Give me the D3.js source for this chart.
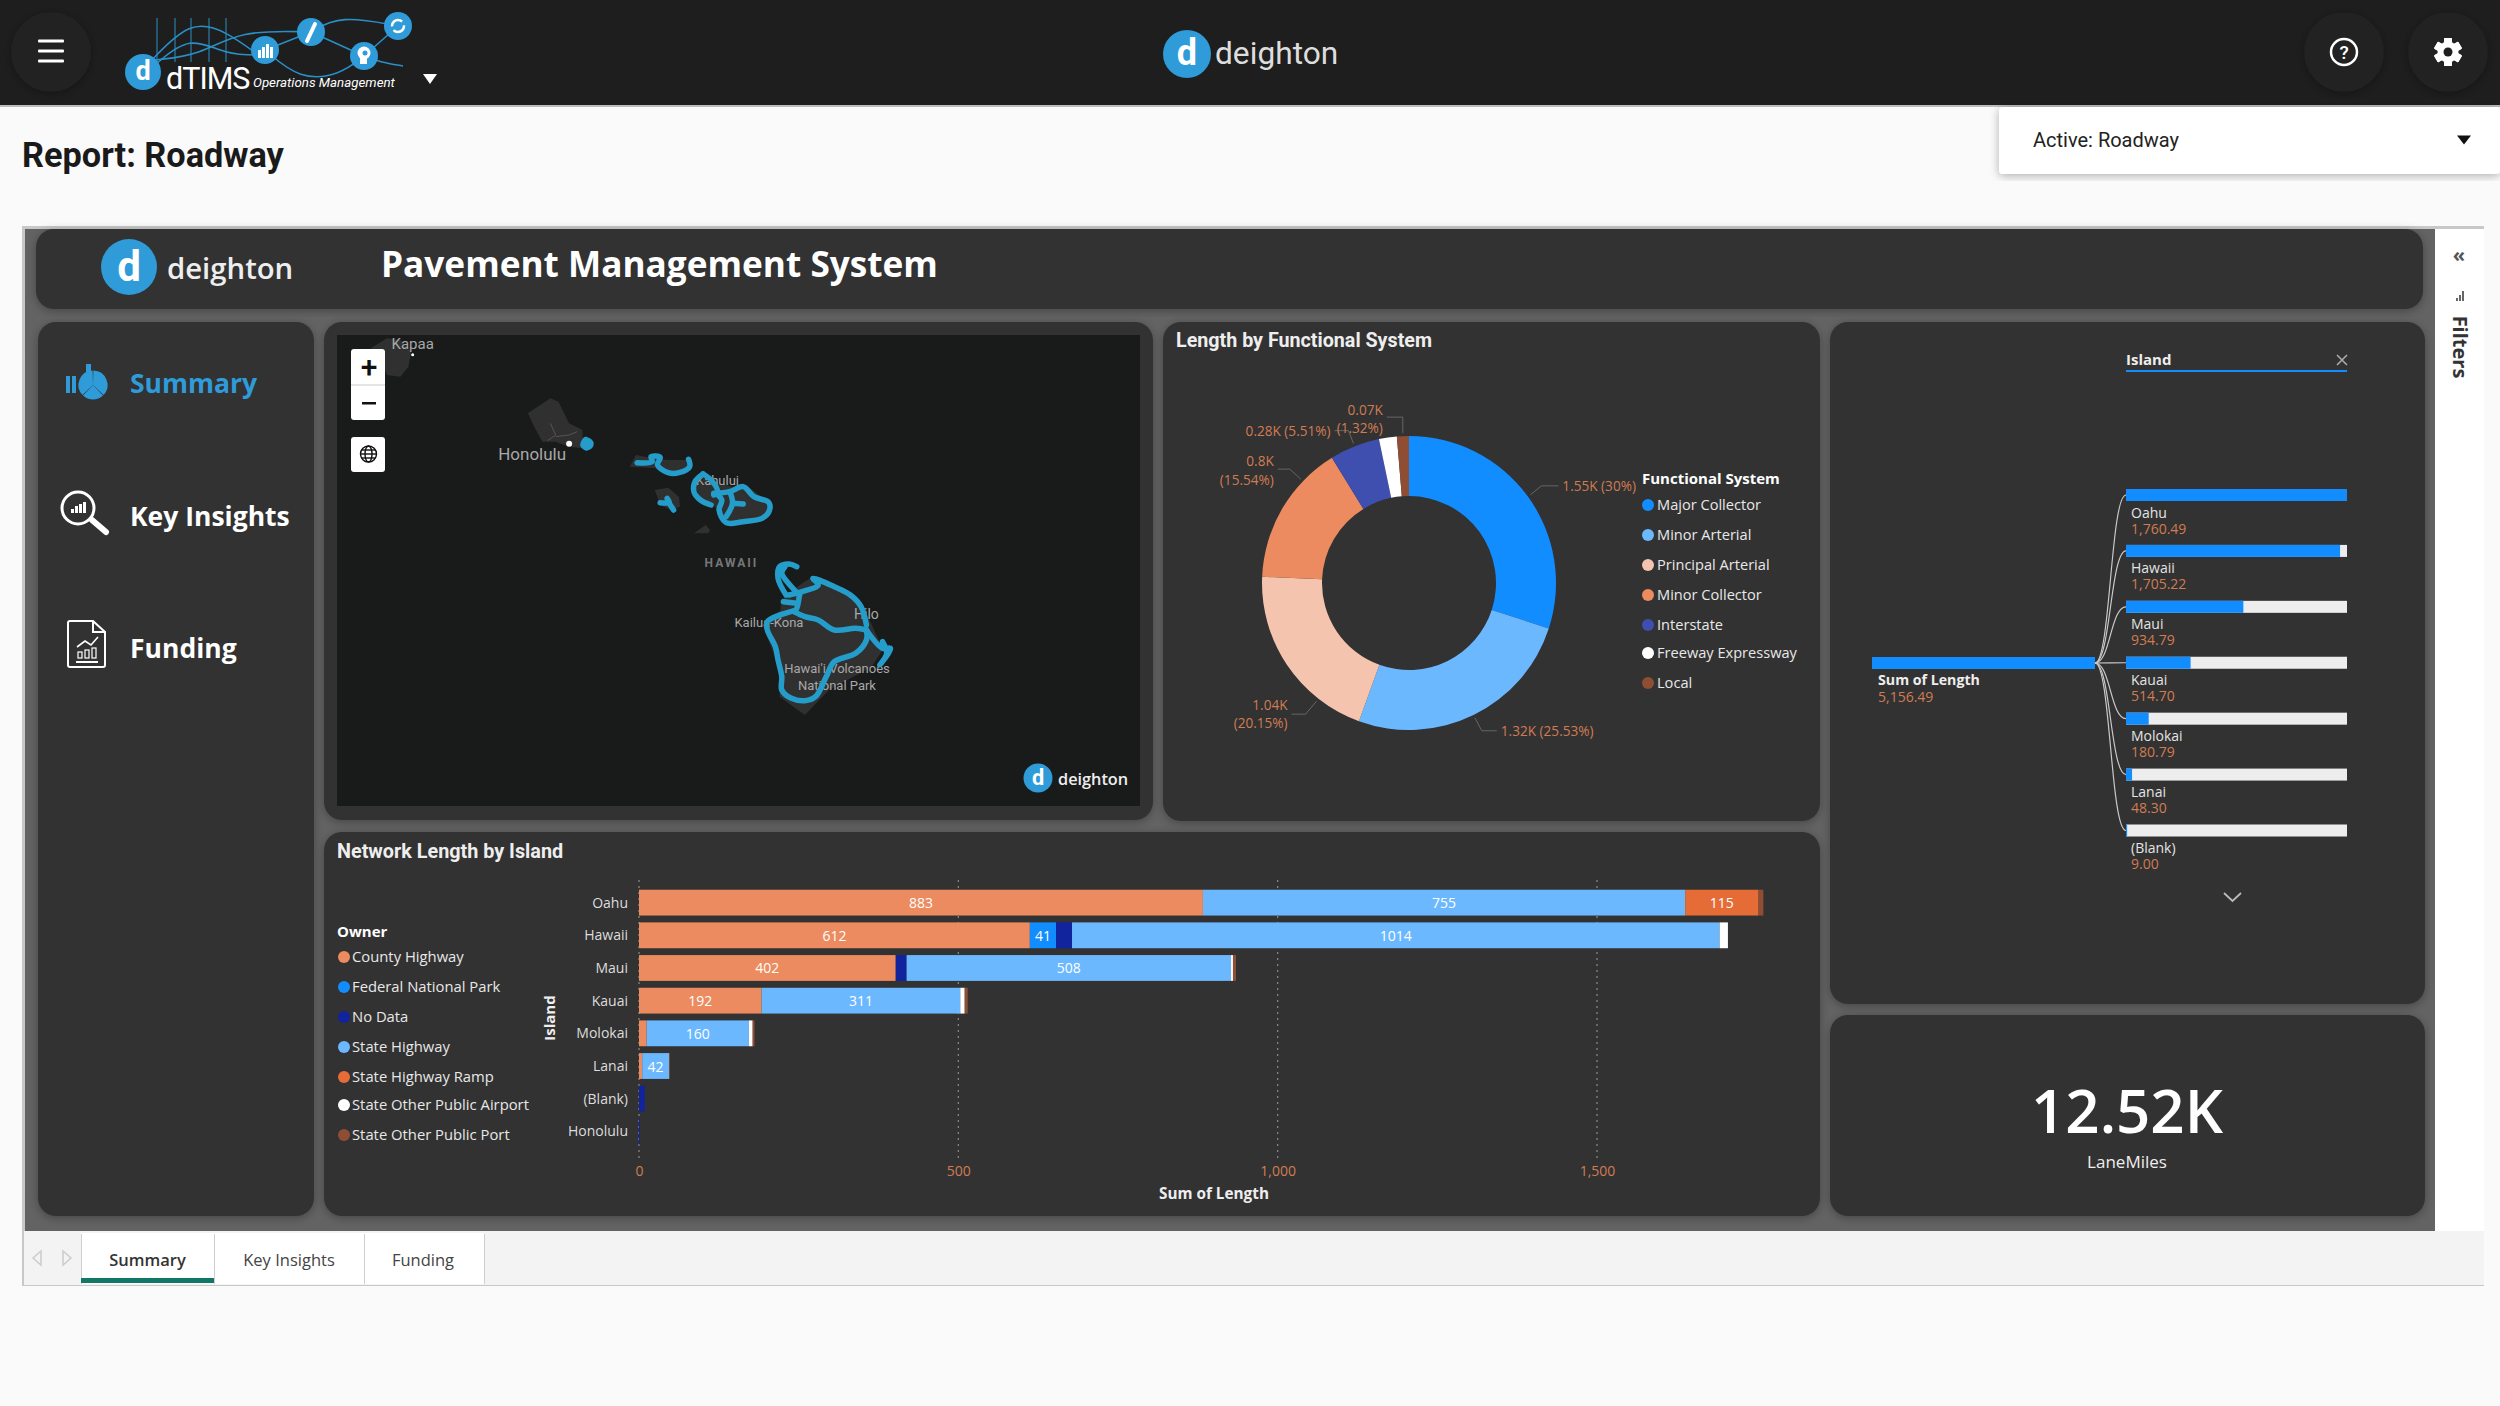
<!DOCTYPE html>
<html><head><meta charset="utf-8">
<script src="https://cdn.jsdelivr.net/npm/d3@7/dist/d3.min.js"></script>
<style>
html,body{margin:0;padding:0;background:#fafafa;overflow:hidden}
svg{display:block}
text{font-family:"Open Sans",sans-serif}
</style></head><body>
<svg id="page" width="2500" height="1406"></svg>
<script>
// ---------- chart values ----------
const functionalSystems = ["Major Collector","Minor Arterial","Principal Arterial","Minor Collector","Interstate","Freeway Expressway","Local"];
const functionalValues = [1547,1316,1039,801,284,101,68];
const functionalColors = ["#118DFF","#6CB8FF","#F4C4AE","#EC8B60","#3F4FB0","#FFFFFF","#8F4E33"];
const functionalLabels = [["1.55K (30%)"],["1.32K (25.53%)"],["1.04K","(20.15%)"],["0.8K","(15.54%)"],["0.28K (5.51%)"],null,["0.07K","(1.32%)"]];

const islands = ["Oahu","Hawaii","Maui","Kauai","Molokai","Lanai","(Blank)","Honolulu"];
const owners = ["County Highway","Federal National Park","No Data","State Highway","State Highway Ramp","State Other Public Airport","State Other Public Port"];
const ownerColors = ["#EC8B60","#118DFF","#12239E","#6CB8FF","#E66C37","#FFFFFF","#8F4E33"];
const countyHighway = [883,612,402,192,12,5,0,0];
const federalPark   = [0,41,0,0,0,0,0,0];
const noData        = [0,25,17,0,0,0,9,1.5];
const stateHighway  = [755,1014,508,311,160,42,0,0];
const stateRamp     = [115,0,0,0,0,0,0,0];
const stateAirport  = [0,13,3,7,6,0,0,0];
const statePort     = [7.5,0,4.8,4.7,2.8,1.3,0,0];
const lengthTicks = [0,500,1000,1500];

const treeIslands = ["Oahu","Hawaii","Maui","Kauai","Molokai","Lanai","(Blank)"];
const treeValues = [1760.49,1705.22,934.79,514.70,180.79,48.30,9.00];
const treeTotal = 5156.49;
const kpiValue = "12.52K";

// map outlines and routes in map-image units
const landShapes = [
 [[95,85],[125,55],[150,60],[170,95],[165,140],[150,170],[125,165],[110,110]],
 [[388,280],[430,235],[445,245],[465,310],[490,330],[490,385],[465,380],[440,365],[415,365],[400,320]],
 [[578,440],[590,405],[620,415],[650,420],[690,420],[690,440],[660,460],[630,445]],
 [[625,510],[650,503],[670,530],[672,560],[655,570],[635,555]],
 [[698,640],[720,615],[728,630],[725,640]],
 [[700,490],[715,460],[745,490],[770,500],[800,500],[835,545],[840,580],[820,600],[760,612],[745,580],[735,555],[710,545]],
 [[860,840],[900,790],[920,770],[960,790],[1000,830],[1020,880],[1040,950],[1050,990],[1030,1040],[950,1110],[905,1185],[858,1130],[860,1060],[835,950],[830,910],[860,870]]
];
const faintRoads = [
 [[430,310],[440,345],[425,362]],[[440,350],[465,345],[480,335]]
];
const oahuRoute = [[495,350],[510,364],[509,382],[497,392],[486,378],[488,362]];
const routes = [
 [[592,428],[620,425],[618,410],[635,412],[630,435],[650,458],[670,458],[690,440],[688,418]],
 [[635,548],[652,548],[648,535]],[[650,545],[660,570]],
 [[715,462],[700,485],[698,515],[710,540],[730,555]],
 [[715,462],[730,480],[742,515],[735,525]],
 [[735,520],[765,515],[790,500],[810,530],[838,548],[838,575],[825,595],[790,605],[758,608],[745,570],[750,540],[738,520]],
 [[765,515],[770,550],[758,590]],[[770,550],[790,552]],
 [[870,825],[855,775],[858,740],[875,732],[890,740]],
 [[868,740],[862,760],[880,800],[895,825]],
 [[875,825],[900,815],[930,795],[920,775],[960,800],[990,825],[1010,860],[1020,915]],
 [[885,875],[905,890],[930,900],[960,930],[1000,925],[1020,930]],
 [[885,872],[835,905],[835,930],[850,980],[855,1020],[862,1070],[862,1110],[880,1135],[905,1142],[925,1130],[945,1070],[960,1025],[1000,1000],[1020,960],[1020,930]],
 [[1020,930],[1050,985],[1065,985],[1045,1035],[1058,1000],[1050,965]],
 [[895,825],[890,865],[885,875]],[[865,845],[890,850]]
];
const mapLabels = [["Kapaa",173,73,15],["Honolulu",396,403,17],["Kahului",742,482,13],["Kailua-Kona",838,908,13],["Hilo",1020,883,14],["Hawai'i Volcanoes",965,1046,13],["National Park",965,1097,13]];

// ---------- helpers ----------
const svg = d3.select("#page");
const BLUE = "#2F9BD8", ORANGE = "#D07C52";
const defs = svg.append("defs");
const sh = defs.append("filter").attr("id","shadow").attr("x","-10%").attr("y","-10%").attr("width","120%").attr("height","120%");
sh.append("feDropShadow").attr("dx",0).attr("dy",2).attr("stdDeviation",5).attr("flood-color","#000").attr("flood-opacity",.3);

function rect(g,x0,y0,x1,y1,fill,r){return g.append("rect").attr("x",x0).attr("y",y0).attr("width",x1-x0).attr("height",y1-y0).attr("fill",fill).attr("rx",r||0);}
function txt(g,s,x,y,size,fill,o){o=o||{};const t=g.append("text").attr("x",x).attr("y",y).attr("font-size",size).attr("fill",fill).attr("dominant-baseline","central").attr("text-anchor",o.anchor||"start").text(s);
 if(o.weight)t.attr("font-weight",o.weight); if(o.family)t.style("font-family",o.family); if(o.style)t.attr("font-style",o.style); if(o.ls)t.attr("letter-spacing",o.ls); if(o.rot)t.attr("transform",`rotate(${o.rot} ${x} ${y})`); return t;}
function logoD(g,cx,cy,r){g.append("circle").attr("cx",cx).attr("cy",cy).attr("r",r).attr("fill",BLUE);
 txt(g,"d",cx,cy-r*.03,r*1.5,"#fff",{anchor:"middle",weight:700,family:"Roboto"});}

// ---------- page chrome ----------
rect(svg,0,0,2500,1406,"#FAFAFA");
rect(svg,0,0,2500,105,"#1E1E1E");
rect(svg,0,105,2500,107,"#bdbdbd");
[[51],[2344],[2448]].forEach(d=>svg.append("circle").attr("cx",d[0]).attr("cy",52).attr("r",40).attr("fill","#202020").attr("filter","url(#shadow)"));
[-10,0,10].forEach(d=>rect(svg,38,51+d-1.5,64,51+d+1.5,"#fff",1));

// dTIMS logo
const lg = svg.append("g");
const logoLine = d3.line().curve(d3.curveBasis);
[157,175,191,209,226].forEach(x=>lg.append("line").attr("x1",x).attr("x2",x).attr("y1",18).attr("y2",62).attr("stroke","#2A8FC5").attr("stroke-width",1));
[[[150,62],[190,20],[225,30],[265,60]],[[155,60],[200,55],[240,30],[311,32]],[[155,65],[190,35],[225,55],[265,55]],[[265,50],[311,32]],[[311,32],[340,15],[398,26]],[[311,32],[364,56]],[[364,56],[398,26]],[[265,50],[300,80],[340,75],[364,56]],[[364,56],[380,62],[403,66]]].forEach(p=>
 lg.append("path").attr("d",logoLine(p)).attr("fill","none").attr("stroke","#2A8FC5").attr("stroke-width",1.6));
logoD(lg,143,72,18);
[[265,50],[311,32],[398,26],[364,56]].forEach(p=>lg.append("circle").attr("cx",p[0]).attr("cy",p[1]).attr("r",14).attr("fill",BLUE));
[[258,3,8],[262,3,11],[266,3,14],[270,3,11]].forEach(d=>rect(lg,d[0],58-d[2],d[0]+d[1],58,"#fff"));
lg.append("path").attr("d","M307,41L315,24").attr("stroke","#fff").attr("stroke-width",4).attr("stroke-linecap","round");
lg.append("circle").attr("cx",398).attr("cy",26).attr("r",6).attr("fill","none").attr("stroke","#fff").attr("stroke-width",2.5).attr("stroke-dasharray","14 4");
lg.append("circle").attr("cx",364).attr("cy",53).attr("r",6.5).attr("fill","#fff");
rect(lg,360,55,367,64,"#fff");
lg.append("circle").attr("cx",365).attr("cy",53).attr("r",2.5).attr("fill",BLUE);
txt(lg,"dTIMS",166,78,30.5,"#fff",{family:"Roboto",ls:-1});
txt(lg,"Operations Management",253,82,13.3,"#fff",{style:"italic",family:"Roboto"});
function tri(x,y,w,h,fill){svg.append("path").attr("d",`M${x-w},${y-h}L${x+w},${y-h}L${x},${y+h}Z`).attr("fill",fill);}
tri(430,79,7,5,"#fff");

logoD(svg,1187,54,24);
txt(svg,"deighton",1215,53,31.7,"#dddddd",{weight:400,family:"Roboto"});

svg.append("circle").attr("cx",2344).attr("cy",52).attr("r",13).attr("fill","none").attr("stroke","#fff").attr("stroke-width",2.5);
txt(svg,"?",2344,52,19,"#fff",{anchor:"middle",family:"Roboto",weight:500});
const gear = svg.append("g").attr("transform","translate(2448,52)");
d3.range(6).forEach(i=>gear.append("rect").attr("x",-4).attr("y",-14).attr("width",8).attr("height",28).attr("fill","#fff").attr("rx",1).attr("transform",`rotate(${i*60})`));
gear.append("circle").attr("r",10.5).attr("fill","#fff");
gear.append("circle").attr("r",4.5).attr("fill","#1E1E1E");

txt(svg,"Report: Roadway",22,155,34.3,"#1a1a1a",{family:"Roboto",weight:700});

rect(svg,1999,107,2500,174,"#fff",4).attr("filter","url(#shadow)");
txt(svg,"Active: Roadway",2033,140,20,"#222",{family:"Roboto"});
tri(2464,140,7,4.5,"#111");

// ---------- report frame ----------
rect(svg,22,226,2484,1286,"#c8c8c8");
rect(svg,25,229,2435,1231,"#636363");
rect(svg,2435,229,2484,1231,"#fff");
rect(svg,24,1231,2484,1285,"#f3f3f3");

function panel(x0,y0,x1,y1){return rect(svg,x0,y0,x1,y1,"#333333",18).attr("filter","url(#shadow)");}
panel(36,229,2423,309);
panel(38,322,314,1216);
panel(324,322,1153,820);
panel(1163,322,1820,821);
panel(324,832,1820,1216);
panel(1830,322,2425,1004);
panel(1830,1015,2425,1216);

// header
logoD(svg,129,267,28);
txt(svg,"deighton",167,268,29.3,"#eeeeee",{weight:600});
txt(svg,"Pavement Management System",381,263,35.2,"#ffffff",{weight:700});

// sidebar
txt(svg,"Summary",130,383,26.5,BLUE,{weight:700});
txt(svg,"Key Insights",130,516,26.5,"#fff",{weight:700});
txt(svg,"Funding",130,648,26.5,"#fff",{weight:700});
const ic1 = svg.append("g").attr("fill",BLUE);
[[66,376,4,17],[72,376,4,17]].forEach(d=>ic1.append("rect").attr("x",d[0]).attr("y",d[1]).attr("width",d[2]).attr("height",d[3]));
rect(ic1,86,364,91,372,BLUE);
const ic1Arc = d3.arc().innerRadius(0).outerRadius(14.5);
d3.pie().sort(null)([3,2,3]).forEach(a=>ic1.append("path").attr("transform","translate(93,385)").attr("d",ic1Arc.padAngle(.05)(a)));
const ic2 = svg.append("g").attr("fill","none").attr("stroke","#fff");
ic2.append("circle").attr("cx",78).attr("cy",508).attr("r",16).attr("stroke-width",3);
ic2.append("line").attr("x1",92).attr("y1",520).attr("x2",106).attr("y2",532).attr("stroke-width",6).attr("stroke-linecap","round");
[[71,4],[75,7],[79,9],[83,11]].forEach(d=>rect(svg,d[0],513-d[1],d[0]+3,513,"#fff"));
const ic3 = svg.append("g").attr("fill","none").attr("stroke","#fff").attr("stroke-width",2);
ic3.append("path").attr("d","M70,621H93L105,632V665Q105,667 103,667H70Q68,667 68,665V623Q68,621 70,621ZM93,621V632H105");
ic3.append("path").attr("d","M77,647L85,641L91,645L98,637").attr("stroke-width",1.6);
[[78,652,4,6],[85,650,4,8],[92,648,4,10]].forEach(d=>ic3.append("rect").attr("x",d[0]).attr("y",d[1]).attr("width",d[2]).attr("height",d[3]).attr("stroke-width",1.2));
ic3.append("line").attr("x1",76).attr("x2",98).attr("y1",662).attr("y2",662);

// ---------- map ----------
rect(svg,337,335,1140,806,"#191B1B");
const mapG = svg.append("g");
const mx = d3.scaleLinear().domain([0,1568]).range([320,1160]);
const my = d3.scaleLinear().domain([0,1500]).range([320,820]);
const mapLine = d3.line().x(d=>mx(d[0])).y(d=>my(d[1]));
landShapes.forEach(s=>mapG.append("path").attr("d",mapLine.curve(d3.curveLinearClosed)(s)).attr("fill","#303030"));
faintRoads.forEach(s=>mapG.append("path").attr("d",mapLine.curve(d3.curveLinear)(s)).attr("fill","none").attr("stroke","#555").attr("stroke-width",1));
mapG.append("circle").attr("cx",mx(465)).attr("cy",my(371)).attr("r",3).attr("fill","#fff");
mapG.append("circle").attr("cx",mx(173)).attr("cy",my(104)).attr("r",1.5).attr("fill","#fff");
mapLabels.forEach(l=>txt(mapG,l[0],mx(l[1]),my(l[2]),l[3],"#a8a8a8",{anchor:"middle",family:"Roboto"}));
txt(mapG,"HAWAII",mx(768),my(730),12,"#777",{anchor:"middle",family:"Roboto",weight:700,ls:2});
const routeLine = d3.line().x(d=>mx(d[0])).y(d=>my(d[1])).curve(d3.curveCatmullRom);
mapG.append("path").attr("d",routeLine.curve(d3.curveCatmullRomClosed)(oahuRoute)).attr("fill","#249DCB");
routeLine.curve(d3.curveCatmullRom);
routes.forEach(r=>mapG.append("path").attr("d",routeLine(r)).attr("fill","none").attr("stroke","#249DCB").attr("stroke-width",5.5).attr("stroke-linejoin","round").attr("stroke-linecap","round"));
rect(svg,351,349,385,420,"#fff",3);
rect(svg,351,384.5,385,385.5,"#ccc");
txt(svg,"+",369,366,30,"#111",{anchor:"middle",family:"Roboto",weight:500});
rect(svg,362,402,376,404.5,"#111");
rect(svg,351,437,385,472,"#fff",3);
const gl = svg.append("g").attr("fill","none").attr("stroke","#111").attr("stroke-width",1.4).attr("transform","translate(368.5,454)");
gl.append("circle").attr("r",8);gl.append("ellipse").attr("rx",3.5).attr("ry",8);
gl.append("line").attr("x1",-8).attr("x2",8);gl.append("line").attr("x1",-7).attr("x2",7).attr("y1",-4).attr("y2",-4);gl.append("line").attr("x1",-7).attr("x2",7).attr("y1",4).attr("y2",4);
logoD(svg,1038,778,14.5);
txt(svg,"deighton",1058,779,16.3,"#eeeeee",{weight:600});

// ---------- donut ----------
const dG = svg.append("g");
txt(dG,"Length by Functional System",1176,340,19.7,"#eeeeee",{family:"Roboto",weight:700});
const donutC = [1409,583], R = 147, r0 = 87;
const pie = d3.pie().sort(null).value(d=>d);
const arcs = pie(functionalValues);
const arc = d3.arc().innerRadius(r0).outerRadius(R);
dG.selectAll("path.slice").data(arcs).join("path").attr("class","slice")
 .attr("transform",`translate(${donutC})`).attr("d",arc).attr("fill",(d,i)=>functionalColors[i]);
const leaderR = R+3;
// t: where on the slice the leader starts; e: elbow offset; h: run of the horizontal; dy: line offsets
const leaderLayout = [{t:.5,e:[11,-9],h:17,a:"start",dy:[0]},{t:.5,e:[7,13],h:15,a:"start",dy:[0]},{t:.25,e:[-11,13],h:-14,a:"end",dy:[-10,8]},{t:.74,e:[-11,-10],h:-12,a:"end",dy:[-9,10]},{t:.5,e:[-5,-13],h:-14,a:"end",dy:[0]},null,{t:.5,e:[0,-16],h:-16,a:"end",dy:[-8,10]}];
arcs.forEach((d,i)=>{ if(!functionalLabels[i])return;
 const L = leaderLayout[i], ang = d.startAngle+L.t*(d.endAngle-d.startAngle);
 const p0=[donutC[0]+leaderR*Math.sin(ang),donutC[1]-leaderR*Math.cos(ang)], p1=[p0[0]+L.e[0],p0[1]+L.e[1]], p2=[p1[0]+L.h,p1[1]];
 dG.append("path").attr("d",d3.line()([p0,p1,p2])).attr("fill","none").attr("stroke","#666").attr("stroke-width",1);
 functionalLabels[i].forEach((s,j)=>txt(dG,s,p2[0]+(L.h>0?4:-4),p2[1]+L.dy[j],13.6,ORANGE,{anchor:L.a}));
});
txt(dG,"Functional System",1642,478,15,"#fff",{weight:700});
const legY1 = [504,534,564,594,624,652,682];
functionalSystems.forEach((s,i)=>{dG.append("circle").attr("cx",1648).attr("cy",legY1[i]+1).attr("r",6).attr("fill",functionalColors[i]);
 txt(dG,s,1657,legY1[i],14.6,"#e8e8e8");});

// ---------- stacked bars ----------
const bG = svg.append("g");
txt(bG,"Network Length by Island",337,851,19.8,"#eeeeee",{family:"Roboto",weight:700});
txt(bG,"Owner",337,931,15,"#fff",{weight:700});
const legY2 = [956,986,1016,1046,1076,1104,1134];
owners.forEach((s,i)=>{bG.append("circle").attr("cx",344).attr("cy",legY2[i]+1).attr("r",6).attr("fill",ownerColors[i]);
 txt(bG,s,352,legY2[i],14.8,"#e8e8e8");});
const x = d3.scaleLinear().domain([0,1500]).range([639,1597]);
const y = d3.scaleBand().domain(islands).range([886.3,1147.7]).paddingInner(.21).paddingOuter(.105);
const ownerSeries = [countyHighway,federalPark,noData,stateHighway,stateRamp,stateAirport,statePort];
const rows = islands.map((isl,i)=>{const o={island:isl};owners.forEach((w,k)=>o[w]=ownerSeries[k][i]);return o;});
const stacked = d3.stack().keys(owners)(rows);
lengthTicks.forEach(t=>{bG.append("line").attr("x1",x(t)).attr("x2",x(t)).attr("y1",880).attr("y2",1160).attr("stroke","#8a8a8a").attr("stroke-width",1.2).attr("stroke-dasharray","2 4");});
const xAxis = d3.axisBottom(x).tickValues(lengthTicks).tickFormat(d3.format(",")).tickSize(0).tickPadding(0);
const xg = bG.append("g").attr("transform","translate(0,1166)").call(xAxis);
xg.select(".domain").remove();
xg.selectAll("text").attr("fill",ORANGE).attr("font-size",14).attr("dy","0.71em").style("font-family","'Open Sans'");
const yAxis = d3.axisLeft(y).tickSize(0).tickPadding(11);
const yg = bG.append("g").attr("transform","translate(639,0.5)").call(yAxis);
yg.select(".domain").remove();
yg.selectAll("text").attr("fill","#dddddd").attr("font-size",14).style("font-family","'Open Sans'");
stacked.forEach((s,k)=>{
 bG.append("g").selectAll("rect").data(s).join("rect")
  .attr("x",d=>x(d[0])).attr("y",d=>y(d.data.island)).attr("width",d=>x(d[1])-x(d[0])).attr("height",y.bandwidth()).attr("fill",ownerColors[k]);
});
stacked.forEach((s,k)=>s.forEach(d=>{const v=d[1]-d[0]; if(v>=41)
 txt(bG,String(Math.round(v)),(x(d[0])+x(d[1]))/2,y(d.data.island)+y.bandwidth()/2,14,"#fff",{anchor:"middle"});}));
txt(bG,"Island",549,1018,15,"#eeeeee",{anchor:"middle",weight:700,rot:-90});
txt(bG,"Sum of Length",1214,1193,15.3,"#eeeeee",{anchor:"middle",weight:700});

// ---------- decomposition tree ----------
const tG = svg.append("g");
txt(tG,"Island",2126,359,15,"#eeeeee",{weight:700});
rect(tG,2126,370,2347,372,"#118DFF");
tG.append("path").attr("d","M2337,355L2347,365M2347,355L2337,365").attr("stroke","#aaa").attr("stroke-width",1.6);
const tx = d3.scaleLinear().domain([0,treeValues[0]]).range([2126,2347]);
const ty = d3.scalePoint().domain(treeIslands).range([495,830.5]);
const rootY = 663;
const link = d3.linkHorizontal();
treeIslands.forEach(n=>tG.append("path").attr("d",link({source:[2095,rootY],target:[2126,ty(n)]})).attr("fill","none").attr("stroke","#c9c9c9").attr("stroke-width",1.2));
rect(tG,1872,rootY-6,2095,rootY+6,"#118DFF");
txt(tG,"Sum of Length",1878,679,14.2,"#eeeeee",{weight:700});
txt(tG,d3.format(",.2f")(treeTotal),1878,696,14,ORANGE);
treeIslands.forEach((n,i)=>{const yy=ty(n);
 rect(tG,2126,yy-6,2347,yy+6,"#EDEDED");
 rect(tG,2126,yy-6,tx(treeValues[i]),yy+6,"#118DFF");
 txt(tG,n,2131,yy+17,14,"#e4e4e4");
 txt(tG,d3.format(",.2f")(treeValues[i]),2131,yy+33,14,ORANGE);
});
tG.append("path").attr("d","M2224,893L2232.5,901L2241,893").attr("fill","none").attr("stroke","#bbb").attr("stroke-width",1.8);

// ---------- KPI ----------
txt(svg,kpiValue,2127,1110,60,"#ffffff",{anchor:"middle",weight:600});
txt(svg,"LaneMiles",2127,1161,17,"#eeeeee",{anchor:"middle"});

// ---------- filter pane ----------
txt(svg,"«",2459,254,20,"#555",{anchor:"middle",weight:700});
[[2456,2,3],[2459,2,6],[2462,2,10]].forEach(d=>rect(svg,d[0],301-d[2],d[0]+d[1],301,"#666"));
txt(svg,"Filters",2460,347,20,"#333",{anchor:"middle",weight:700,rot:90});

// ---------- tabs ----------
rect(svg,81,1233,214,1284,"#fff");rect(svg,214,1233,364,1284,"#fff");rect(svg,364,1233,484,1284,"#fff");
[81,214,364,484].forEach(xx=>rect(svg,xx,1234,xx+1,1284,"#cfcfcf"));
rect(svg,81,1278,214,1283,"#117865");
txt(svg,"Summary",147.5,1259,16.5,"#333",{anchor:"middle",weight:600});
txt(svg,"Key Insights",289,1259,16.5,"#444",{anchor:"middle"});
txt(svg,"Funding",423,1259,16.5,"#444",{anchor:"middle"});
svg.append("path").attr("d","M41,1251L33,1258L41,1265Z").attr("fill","none").attr("stroke","#ccc").attr("stroke-width",1.5);
svg.append("path").attr("d","M63,1251L71,1258L63,1265Z").attr("fill","none").attr("stroke","#ccc").attr("stroke-width",1.5);
</script></body></html>
